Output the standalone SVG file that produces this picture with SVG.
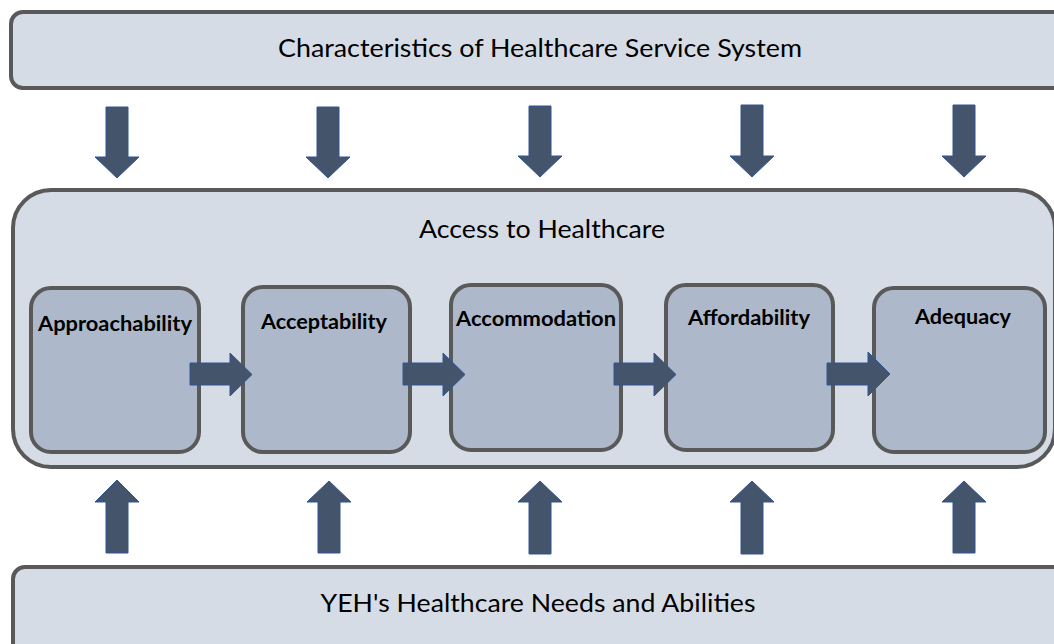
<svg xmlns="http://www.w3.org/2000/svg" width="1054" height="644" viewBox="0 0 1054 644">
  <defs>
    <style>
      .band { fill: #d6dce5; stroke: #595959; stroke-width: 4; }
      .stage { fill: #adb9ca; stroke: #595959; stroke-width: 4; }
      .arrow { fill: #44546a; stroke: #2f5597; stroke-width: 1; }
      .title { font-family: Lato, "Open Sans", "Liberation Sans", sans-serif; font-size: 25px; fill: #000; text-anchor: middle; }
      .label { font-family: Lato, "Open Sans", "Liberation Sans", sans-serif; font-size: 20px; font-weight: bold; fill: #000; text-anchor: middle; }
    </style>
  </defs>
  <rect width="1054" height="644" fill="#ffffff"/>

  <!-- System characteristics band -->
  <g id="system">
    <rect class="band" x="11" y="12" width="1100" height="76" rx="12"/>
    <text class="title" x="540" y="57" textLength="524" lengthAdjust="spacingAndGlyphs">Characteristics of Healthcare Service System</text>
  </g>

  <!-- Access container -->
  <g id="access">
    <rect class="band" x="13" y="190" width="1042" height="277" rx="38"/>
    <text class="title" x="542" y="238" textLength="246" lengthAdjust="spacingAndGlyphs">Access to Healthcare</text>
  </g>

  <!-- Access dimensions -->
  <g id="approachability">
    <rect class="stage" x="31" y="288" width="168" height="164" rx="20"/>
    <text class="label" x="115" y="331" textLength="154" lengthAdjust="spacingAndGlyphs">Approachability</text>
  </g>
  <g id="acceptability">
    <rect class="stage" x="243" y="287" width="167" height="165" rx="20"/>
    <text class="label" x="324" y="329" textLength="126" lengthAdjust="spacingAndGlyphs">Acceptability</text>
  </g>
  <g id="accommodation">
    <rect class="stage" x="451" y="285" width="170" height="165" rx="20"/>
    <text class="label" x="536" y="326" textLength="160" lengthAdjust="spacingAndGlyphs">Accommodation</text>
  </g>
  <g id="affordability">
    <rect class="stage" x="666" y="285" width="167" height="165" rx="20"/>
    <text class="label" x="749" y="325" textLength="122" lengthAdjust="spacingAndGlyphs">Affordability</text>
  </g>
  <g id="adequacy">
    <rect class="stage" x="874" y="288" width="171" height="164" rx="20"/>
    <text class="label" x="963" y="324" textLength="96" lengthAdjust="spacingAndGlyphs">Adequacy</text>
  </g>

  <!-- Needs and abilities band -->
  <g id="needs">
    <rect class="band" x="13" y="567" width="1100" height="120" rx="12"/>
    <text class="title" x="538" y="612" textLength="435" lengthAdjust="spacingAndGlyphs">YEH's Healthcare Needs and Abilities</text>
  </g>

  <!-- Block arrows -->
  <g id="connectors">
    <!-- downward: system to access -->
    <path class="arrow" d="M106 107 H128 V157 H139 L117 178 L95 157 H106 Z"/>
    <path class="arrow" d="M317 107 H339 V157 H350 L328 178 L306 157 H317 Z"/>
    <path class="arrow" d="M529 106 H551 V156 H562 L540 177 L518 156 H529 Z"/>
    <path class="arrow" d="M741 105 H763 V156 H774 L752 177 L730 156 H741 Z"/>
    <path class="arrow" d="M953 105 H975 V156 H986 L964 177 L942 156 H953 Z"/>

    <!-- rightward: between dimensions -->
    <path class="arrow" d="M190 363 H230 V353 L252 374.5 L230 396 V385 H190 Z"/>
    <path class="arrow" d="M403 363 H443 V353 L465 374.5 L443 396 V385 H403 Z"/>
    <path class="arrow" d="M614 363 H654 V353 L676 374.5 L654 396 V385 H614 Z"/>
    <path class="arrow" d="M827 363 H868 V352 L890 374 L868 396 V385 H827 Z"/>

    <!-- upward: needs to access -->
    <path class="arrow" d="M106 553 H128 V502 H139 L117 480 L95 502 H106 Z"/>
    <path class="arrow" d="M318 553 H340 V502 H351 L329 481 L307 502 H318 Z"/>
    <path class="arrow" d="M529 554 H551 V502 H562 L540 481 L518 502 H529 Z"/>
    <path class="arrow" d="M741 554 H763 V502 H774 L752 481 L730 502 H741 Z"/>
    <path class="arrow" d="M953 553 H975 V502 H986 L964 481 L942 502 H953 Z"/>
  </g>
</svg>
